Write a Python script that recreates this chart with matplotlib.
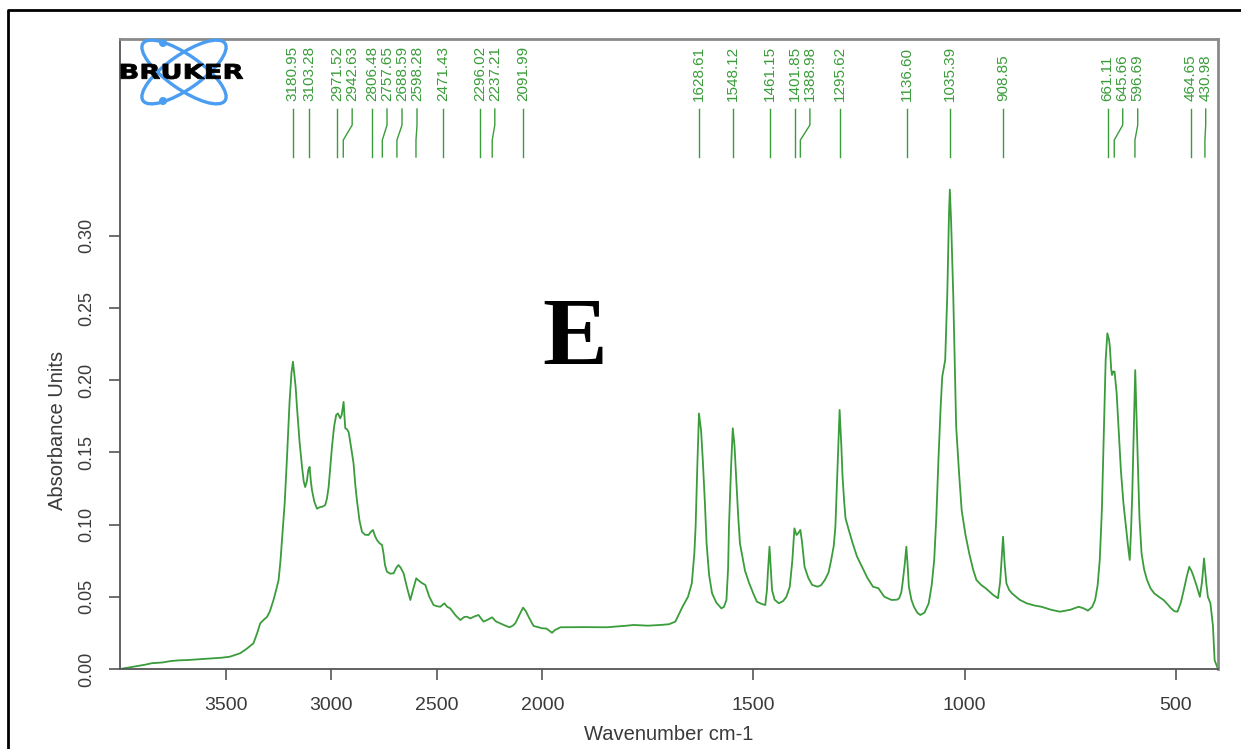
import numpy as np
import matplotlib
matplotlib.use("Agg")
import matplotlib.pyplot as plt
from matplotlib.font_manager import FontProperties
from matplotlib.textpath import TextPath
from matplotlib.patches import PathPatch, Ellipse, Circle
from matplotlib.transforms import Affine2D
from matplotlib.lines import Line2D

plt.rcParams["font.family"] = ["Liberation Sans", "DejaVu Sans"]

# ИК-спектр образца E
wavenumber = [
    4000, 3960, 3920, 3880, 3850, 3800, 3760, 3720, 3680, 3640, 3600, 3560, 3520, 3480,
    3431, 3400, 3368, 3350, 3336, 3320, 3304, 3290, 3273, 3260, 3249, 3240, 3233, 3220,
    3209, 3197, 3188, 3181, 3175, 3168, 3162, 3150, 3138, 3130, 3123, 3115, 3108, 3102,
    3096, 3091, 3080, 3067, 3055, 3040, 3028, 3020, 3012, 3004, 2996, 2986, 2976, 2968,
    2957, 2950, 2944, 2941, 2937, 2933, 2925, 2917, 2905, 2894, 2886, 2878, 2866, 2854,
    2840, 2823, 2812, 2802, 2792, 2783, 2770, 2759, 2752, 2745, 2736, 2720, 2704, 2692,
    2681, 2670, 2657, 2640, 2625, 2612, 2597, 2575, 2554, 2535, 2515, 2500, 2483, 2464,
    2450, 2436, 2410, 2388, 2370, 2357, 2340, 2325, 2302, 2290, 2278, 2260, 2238, 2220,
    2199, 2175, 2155, 2140, 2128, 2110, 2091, 2078, 2065, 2050, 2041, 2020, 2001, 1990,
    1977, 1970, 1957, 1900, 1847, 1800, 1784, 1750, 1720,
    1700, 1685, 1668, 1655, 1646, 1640, 1637, 1633, 1629, 1624, 1620, 1615, 1611, 1605,
    1598, 1588, 1576, 1570, 1564, 1560, 1558, 1553, 1549, 1545, 1541, 1536, 1532, 1520,
    1510, 1500, 1492, 1480, 1472, 1468, 1466, 1462, 1459, 1456, 1450, 1440, 1430, 1422,
    1414, 1408, 1403, 1398, 1394, 1389, 1385, 1379, 1370, 1361, 1348, 1340, 1331, 1322,
    1316, 1310, 1306, 1301, 1296, 1292, 1289, 1285, 1282, 1275, 1265, 1255, 1243, 1230,
    1217, 1204, 1195, 1190, 1173, 1160, 1155, 1150, 1147, 1142, 1138, 1135, 1132, 1126,
    1120, 1112, 1105, 1095, 1085, 1078, 1072, 1067, 1062, 1057, 1053, 1046, 1041, 1037,
    1035, 1032, 1027, 1020, 1013, 1007, 998, 989, 980, 972, 960, 950, 932, 921,
    916, 914, 909, 905, 901, 895, 888, 870, 853, 835, 818, 795, 774, 750,
    730, 718, 708, 698, 691, 685, 680, 675, 672, 669, 666, 662, 658, 656,
    653, 651, 648, 645, 640, 635, 630, 624, 618, 613, 609, 606, 603, 599,
    596, 593, 590, 586, 581, 575, 568, 560, 551, 540, 529, 520, 511, 503,
    496, 488, 481, 474, 468, 463, 459, 450, 443, 438, 433, 428, 424, 418,
    412, 408, 400,
]
absorbance = [
    0.000, 0.001, 0.002, 0.003, 0.004, 0.0045, 0.0055, 0.006, 0.0062, 0.0066, 0.007, 0.0074, 0.0078, 0.0085,
    0.0109, 0.014, 0.0178, 0.025, 0.0316, 0.034, 0.036, 0.040, 0.0478, 0.055, 0.0616, 0.075, 0.0893, 0.115,
    0.147, 0.185, 0.205, 0.2128, 0.205, 0.195, 0.1816, 0.158, 0.140, 0.130, 0.126, 0.130, 0.138, 0.140,
    0.130, 0.124, 0.116, 0.111, 0.112, 0.1125, 0.1136, 0.118, 0.126, 0.140, 0.154, 0.168, 0.176, 0.177,
    0.1736, 0.176, 0.182, 0.185, 0.175, 0.1667, 0.166, 0.164, 0.153, 0.1424, 0.128, 0.117, 0.103, 0.095,
    0.093, 0.0928, 0.095, 0.0963, 0.092, 0.0893, 0.087, 0.0859, 0.080, 0.072, 0.0674, 0.066, 0.0663, 0.070,
    0.072, 0.070, 0.0663, 0.056, 0.0478, 0.055, 0.0628, 0.060, 0.0582, 0.050, 0.0443, 0.0435, 0.0431, 0.0455,
    0.043, 0.042, 0.037, 0.0339, 0.036, 0.0362, 0.035, 0.0362, 0.0374, 0.035, 0.0328, 0.034, 0.0358, 0.033,
    0.0316, 0.030, 0.0289, 0.030, 0.0316, 0.037, 0.0425, 0.040, 0.0362, 0.032, 0.0298, 0.029, 0.0282, 0.028,
    0.0251, 0.027, 0.0289, 0.029, 0.0289, 0.030, 0.0305, 0.030, 0.0305,
    0.031, 0.0328, 0.0431, 0.050, 0.0593, 0.080, 0.0985, 0.140, 0.177, 0.165, 0.1447, 0.115, 0.087, 0.065,
    0.0524, 0.046, 0.042, 0.043, 0.0478, 0.070, 0.0985, 0.140, 0.1667, 0.155, 0.133, 0.105, 0.087, 0.068,
    0.0593, 0.052, 0.0466, 0.045, 0.0443, 0.055, 0.0663, 0.0847, 0.070, 0.0547, 0.048, 0.0455, 0.047, 0.050,
    0.057, 0.075, 0.0974, 0.0928, 0.094, 0.0963, 0.088, 0.0708, 0.063, 0.0582, 0.057, 0.058, 0.0616, 0.067,
    0.0755, 0.085, 0.0985, 0.140, 0.1794, 0.155, 0.133, 0.115, 0.1044, 0.097, 0.087, 0.078, 0.0708, 0.063,
    0.057, 0.0559, 0.052, 0.050, 0.0478, 0.048, 0.049, 0.053, 0.0593, 0.072, 0.0847, 0.072, 0.057, 0.048,
    0.0431, 0.039, 0.0374, 0.039, 0.0455, 0.058, 0.0755, 0.105, 0.1447, 0.180, 0.2024, 0.214, 0.260, 0.315,
    0.332, 0.310, 0.260, 0.1678, 0.135, 0.110, 0.093, 0.080, 0.069, 0.0616, 0.058, 0.0559, 0.0512, 0.049,
    0.060, 0.0686, 0.0916, 0.072, 0.0593, 0.055, 0.0524, 0.048, 0.0455, 0.044, 0.0431, 0.041, 0.0397, 0.041,
    0.0431, 0.042, 0.0404, 0.043, 0.0478, 0.058, 0.0755, 0.110, 0.1447, 0.180, 0.214, 0.2325, 0.228, 0.223,
    0.208, 0.2036, 0.206, 0.206, 0.191, 0.165, 0.1378, 0.115, 0.0985, 0.085, 0.0755, 0.095, 0.1217, 0.170,
    0.207, 0.175, 0.1447, 0.105, 0.080, 0.069, 0.0616, 0.056, 0.0524, 0.050, 0.0478, 0.045, 0.042, 0.040,
    0.0397, 0.046, 0.0547, 0.064, 0.0708, 0.068, 0.0651, 0.057, 0.050, 0.060, 0.0766, 0.060, 0.050, 0.0455,
    0.030, 0.006, 0.000,
]

# подписанные пики
peaks = [3180.95, 3103.28, 2971.52, 2942.63, 2806.48, 2757.65, 2688.59, 2598.28,
         2471.43, 2296.02, 2237.21, 2091.99, 1628.61, 1548.12, 1461.15, 1401.85,
         1388.98, 1295.62, 1136.60, 1035.39, 908.85, 661.11, 645.66, 596.69,
         464.65, 430.98]

x_ticks = [3500, 3000, 2500, 2000, 1500, 1000, 500]
y_ticks = [0.00, 0.05, 0.10, 0.15, 0.20, 0.25, 0.30]

W, H = 1241, 749
green = "#3a9c3a"
grey = "#3a3a3a"


# выше 2000 см-1 шкала сжата вдвое
def fwd(x):
    x = np.asarray(x, dtype=float)
    return np.where(x > 2000, 2000 + (x - 2000) / 2, x)


def inv(u):
    u = np.asarray(u, dtype=float)
    return np.where(u > 2000, 2000 + (u - 2000) * 2, u)


fig = plt.figure(figsize=(W / 100, H / 100), dpi=100)
ax = fig.add_axes([120 / W, 1 - 669 / H, 1098 / W, 630 / H])
ax.set_xscale("function", functions=(fwd, inv))
ax.set_xlim(4000, 400)
ax.set_ylim(0, 0.4363)

ax.plot(wavenumber, absorbance, color=green, lw=1.3)

ax.set_xticks(x_ticks, [str(t) for t in x_ticks])
ax.set_yticks(y_ticks, ["%.2f" % t for t in y_ticks])
ax.minorticks_off()
for lab in ax.get_yticklabels():
    lab.set_rotation(90)
    lab.set_va("center")
ax.tick_params(axis="x", length=8, width=1.2, color="#555555", pad=12,
               labelsize=14, labelcolor=grey)
ax.tick_params(axis="y", length=8, width=1.2, color="#555555", pad=10,
               labelsize=13, labelcolor=grey)
ax.set_xlabel("Wavenumber cm-1", fontsize=14.5, color=grey)
ax.set_ylabel("Absorbance Units", fontsize=14.5, color=grey)
ax.xaxis.set_label_coords(0.5, -0.104)
ax.xaxis.label.set_va("center")
ax.yaxis.set_label_coords(-0.0565, 0.379)
ax.yaxis.label.set_va("center")

for side in ["left", "bottom"]:
    ax.spines[side].set_color("#555555")
    ax.spines[side].set_linewidth(1.3)
for side in ["top", "right"]:
    ax.spines[side].set_color("#8a8a8a")
    ax.spines[side].set_linewidth(2)

# метки пиков: разводим подписи, чтобы не налезали друг на друга
y_bot, y_knee1, y_knee2, y_top, y_txt = 0.3546, 0.3663, 0.3767, 0.3878, 0.3935
gap = 15
peak_px = [ax.transData.transform((p, 0))[0] for p in peaks]
label_px = []
for px in peak_px:
    if label_px:
        px = max(px, label_px[-1] + gap)
    label_px.append(px)
to_data = ax.transData.inverted()
for p, lpx in zip(peaks, label_px):
    lx = to_data.transform((lpx, 0))[0]
    ax.plot([p, p, lx, lx], [y_bot, y_knee1, y_knee2, y_top], color=green, lw=1)
    ax.text(lx, y_txt, "%.2f" % p, rotation=90, ha="center", va="bottom",
            fontsize=11, color=green)

# буква образца
fig.text(575 / W, 1 - 342 / H, "E", fontsize=70, fontweight="bold",
         family="Liberation Serif", ha="center", va="center")

# логотип в пикселях рисунка
px_tr = Affine2D().scale(1 / W, 1 / H) + fig.transFigure
blue = "#4a9df0"
for ang in [35, -35]:
    fig.patches.append(Ellipse((184, H - 72), 100, 34, angle=ang, fill=False,
                               ec=blue, lw=2.4, transform=px_tr, zorder=5))
for cy in [43, 101]:
    fig.patches.append(Circle((163, H - cy), 4, fc=blue, ec="none",
                              transform=px_tr, zorder=5))
tp = TextPath((0, 0), "BRUKER", size=20,
              prop=FontProperties(family="DejaVu Sans", weight="bold"))
ext = tp.get_extents()
logo = (Affine2D().translate(-ext.x0, -ext.y0)
        .scale(122 / ext.width, 15 / ext.height)
        .translate(121, H - 79)).transform_path(tp)
fig.patches.append(PathPatch(logo, fc="black", ec="black", lw=0.6,
                             transform=px_tr, zorder=6))

# внешняя рамка
fig.lines.append(Line2D([8, 8, W + 5], [-5, H - 10, H - 10], color="black",
                        lw=2, transform=px_tr))

fig.savefig("out.png", dpi=100)
